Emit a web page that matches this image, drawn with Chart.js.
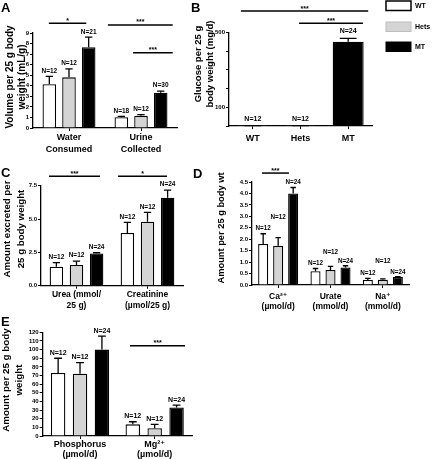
<!DOCTYPE html>
<html>
<head>
<meta charset="utf-8">
<script src="https://cdn.jsdelivr.net/npm/chart.js@4.4.1/dist/chart.umd.min.js"></script>
<style>
  html, body { margin: 0; padding: 0; background: #fff; }
  #fig { position: relative; width: 432px; height: 459px; overflow: hidden; background: #fff; }
  #fig canvas { position: absolute; left: 0; top: 0; }
</style>
</head>
<body>
<div id="fig">
  <canvas id="chartA" width="432" height="459"></canvas>
  <canvas id="chartB" width="432" height="459"></canvas>
  <canvas id="chartC" width="432" height="459"></canvas>
  <canvas id="chartD" width="432" height="459"></canvas>
  <canvas id="chartE" width="432" height="459"></canvas>
</div>
<script>
const FONT = "'Liberation Sans', Arial, Helvetica, 'DejaVu Sans', sans-serif";
const W = 432, H = 459;

// genotype groups
const groups = ['WT', 'Hets', 'MT'];
const groupFill = ['#ffffff', '#d4d4d4', '#000000'];

// A - volume per 25 g body weight
const volumeCats = [['Water', 'Consumed'], ['Urine', 'Collected']];
const volumeWT = [4.15, 1.03], volumeWTErr = [0.75, 0.08], volumeWTN = [12, 18];
const volumeHets = [4.8, 1.15], volumeHetsErr = [0.8, 0.12], volumeHetsN = [12, 12];
const volumeMT = [7.65, 3.35], volumeMTErr = [0.95, 0.15], volumeMTN = [21, 30];

// B - glucose
const glucoseCats = ['WT', 'Hets', 'MT'];
const glucose = [1.5, 1.5, 450];
const glucoseErr = [0.5, 0.5, 18];
const glucoseN = [12, 12, 24];
const glucoseTickLabels = [100, 500];

// C - urea / creatinine
const excretedCats = [['Urea (mmol/', '25 g)'], ['Creatinine', '(\u00b5mol/25 g)']];
const excretedWT = [1.43, 3.95], excretedWTErr = [0.3, 0.8], excretedWTN = [12, 12];
const excretedHets = [1.55, 4.8], excretedHetsErr = [0.3, 0.7], excretedHetsN = [12, 12];
const excretedMT = [2.42, 6.6], excretedMTErr = [0.05, 0.57], excretedMTN = [24, 24];

// D - Ca, urate, Na
const ionCats = [['Ca\u00b2\u207a', '(\u00b5mol/d)'], ['Urate', '(mmol/d)'], ['Na\u207a', '(mmol/d)']];
const ionWT = [1.79, 0.6, 0.22], ionWTErr = [0.45, 0.12, 0.07], ionWTN = [12, 12, 12];
const ionHets = [1.71, 0.66, 0.23], ionHetsErr = [0.36, 0.15, 0.04], ionHetsN = [12, 12, 12];
const ionMT = [4.0, 0.77, 0.35], ionMTErr = [0.26, 0.07, 0.01], ionMTN = [24, 24, 24];

// E - phosphorus, Mg
const mineralCats = [['Phosphorus', '(\u00b5mol/d)'], ['Mg\u00b2\u207a', '(\u00b5mol/d)']];
const mineralWT = [73, 13.5], mineralWTErr = [17, 3], mineralWTN = [12, 12];
const mineralHets = [72, 9], mineralHetsErr = [13, 4.5], mineralHetsN = [12, 12];
const mineralMT = [100, 33], mineralMTErr = [15.5, 2.8], mineralMTN = [24, 24];

Chart.defaults.font.family = FONT;
Chart.defaults.font.weight = 'bold';
Chart.defaults.color = '#000';

// error bars, N labels, significance lines, titles, legend
const panelPlugin = {
  id: 'panel',
  afterDatasetsDraw(chart, args, o) {
    const ctx = chart.ctx, xs = chart.scales.x, ys = chart.scales.y;
    ctx.save();
    ctx.strokeStyle = '#000';
    ctx.fillStyle = '#000';
    chart.data.datasets.forEach((ds, i) => {
      chart.getDatasetMeta(i).data.forEach((bar, j) => {
        const top = ys.getPixelForValue(ds.data[j] + ds.err[j]);
        const cap = bar.width * 0.27;
        ctx.lineWidth = 1.3;
        ctx.beginPath();
        ctx.moveTo(bar.x, bar.y);
        ctx.lineTo(bar.x, top);
        ctx.moveTo(bar.x - cap, top);
        ctx.lineTo(bar.x + cap, top);
        ctx.stroke();
        const lift = o.lift ? o.lift[i][j] : 0;
        ctx.font = `bold ${o.nSize}px ${FONT}`;
        ctx.textAlign = 'center';
        ctx.textBaseline = 'middle';
        ctx.fillText('N=' + ds.n[j], bar.x, top - o.nGap - lift);
      });
    });

    (o.sig || []).forEach(s => {
      const x0 = xs.getPixelForValue(s.x0), x1 = xs.getPixelForValue(s.x1);
      const y = ys.getPixelForValue(s.y);
      ctx.lineWidth = 1.5;
      ctx.beginPath();
      ctx.moveTo(x0, y);
      ctx.lineTo(x1, y);
      ctx.stroke();
      ctx.font = `bold 7px ${FONT}`;
      ctx.textAlign = 'center';
      ctx.textBaseline = 'alphabetic';
      ctx.fillText(s.text, (x0 + x1) / 2, y - 0.5);
    });

    const t = o.title;
    ctx.font = `bold ${t.size}px ${FONT}`;
    ctx.textAlign = 'center';
    ctx.textBaseline = 'middle';
    t.lines.forEach((line, k) => {
      ctx.save();
      ctx.translate(t.xs[k], t.cy);
      ctx.rotate(-Math.PI / 2);
      ctx.fillText(line, 0, 0);
      ctx.restore();
    });

    ctx.font = `bold 13px ${FONT}`;
    ctx.textAlign = 'left';
    ctx.textBaseline = 'alphabetic';
    ctx.fillText(o.letter.text, o.letter.x, o.letter.y);

    if (o.legend) {
      const L = o.legend;
      groups.forEach((g, k) => {
        const y = L.ys[k];
        ctx.fillStyle = groupFill[k];
        ctx.fillRect(L.x, y, L.w, L.h);
        ctx.lineWidth = k === 0 ? 1.5 : 1;
        ctx.strokeStyle = k === 1 ? '#bdbdbd' : '#000';
        ctx.strokeRect(L.x, y, L.w, L.h);
        ctx.fillStyle = '#000';
        ctx.font = `bold 7px ${FONT}`;
        ctx.textAlign = 'left';
        ctx.textBaseline = 'middle';
        ctx.fillText(g, L.tx, y + L.h / 2);
      });
    }
    ctx.restore();
  }
};

function groupSets(values, errs, ns) {
  return groups.map((g, k) => ({
    label: g,
    data: values[k],
    err: errs[k],
    n: ns[k],
    backgroundColor: groupFill[k],
    borderColor: '#000',
    borderWidth: 1.3
  }));
}

function barPanel(id, p) {
  return new Chart(document.getElementById(id), {
    type: 'bar',
    data: { labels: p.labels, datasets: p.datasets },
    options: {
      responsive: false,
      animation: false,
      events: [],
      layout: {
        padding: {
          left: p.area.l - p.yw,
          top: p.area.t,
          right: W - p.area.r,
          bottom: H - p.area.b - p.xh
        }
      },
      datasets: { bar: { categoryPercentage: p.cat, barPercentage: p.bar } },
      plugins: {
        legend: { display: false },
        tooltip: { enabled: false },
        panel: p.panel
      },
      scales: {
        x: {
          offset: true,
          grid: { offset: false, drawOnChartArea: false, tickLength: 3, color: '#000', lineWidth: 1 },
          border: { color: '#000', width: 1.3 },
          ticks: {
            color: '#000', autoSkip: false, maxRotation: 0, padding: p.xPad,
            font: { size: p.xFont, weight: 'bold', lineHeight: p.xLine }
          },
          afterFit: s => { s.height = p.xh; }
        },
        y: {
          min: 0, max: p.yMax,
          grid: { drawOnChartArea: false, tickLength: 3, color: '#000', lineWidth: 1 },
          border: { color: '#000', width: 1.3 },
          ticks: {
            color: '#000', autoSkip: false, stepSize: p.yStep, padding: 1,
            font: { size: 6, weight: 'bold' },
            callback: p.yFmt
          },
          afterFit: s => { s.width = p.yw; }
        }
      }
    },
    plugins: [panelPlugin]
  });
}

// A
barPanel('chartA', {
  area: { l: 33, t: 33, r: 177, b: 128 }, yw: 25, xh: 30,
  labels: volumeCats,
  datasets: groupSets([volumeWT, volumeHets, volumeMT], [volumeWTErr, volumeHetsErr, volumeMTErr], [volumeWTN, volumeHetsN, volumeMTN]),
  cat: 0.82, bar: 0.69, yMax: 9, yStep: 1, yFmt: v => v,
  xFont: 9, xLine: 1.33, xPad: 1,
  panel: {
    nSize: 6.5, nGap: 5.5,
    sig: [
      { x0: -0.28, x1: 0.24, y: 9.92, text: '*' },
      { x0: 0.54, x1: 1.44, y: 9.76, text: '***' },
      { x0: 0.89, x1: 1.44, y: 7.13, text: '***' }
    ],
    title: { lines: ['Volume per 25 g body', 'weight (mL/g)'], xs: [10, 22], cy: 77, size: 10 },
    letter: { text: 'A', x: 1, y: 12 }
  }
});

// B
barPanel('chartB', {
  area: { l: 229, t: 32.3, r: 372, b: 126.1 }, yw: 20, xh: 30,
  labels: glucoseCats,
  datasets: [{
    label: 'Glucose', data: glucose, err: glucoseErr, n: glucoseN,
    backgroundColor: groupFill, borderColor: '#000', borderWidth: 1.3
  }],
  cat: 1, bar: 0.65, yMax: 500, yStep: 100,
  yFmt: v => glucoseTickLabels.includes(v) ? v : '',
  xFont: 9, xLine: 1.3, xPad: 3.5,
  panel: {
    nSize: 7, nGap: 7,
    sig: [
      { x0: -0.25, x1: 2.42, y: 613, text: '***' },
      { x0: 0.97, x1: 2.31, y: 548, text: '***' }
    ],
    title: { lines: ['Glucose per 25 g', 'body weight (mg/d)'], xs: [198, 210], cy: 64, size: 9.5 },
    letter: { text: 'B', x: 191, y: 12 },
    legend: { x: 386, w: 25, h: 9.5, ys: [1, 22, 42], tx: 415 }
  }
});

// C
barPanel('chartC', {
  area: { l: 41, t: 185.7, r: 183, b: 285.7 }, yw: 25, xh: 30,
  labels: excretedCats,
  datasets: groupSets([excretedWT, excretedHets, excretedMT], [excretedWTErr, excretedHetsErr, excretedMTErr], [excretedWTN, excretedHetsN, excretedMTN]),
  cat: 0.85, bar: 0.67, yMax: 7.5, yStep: 2.5, yFmt: v => v.toFixed(1),
  xFont: 8.5, xLine: 1.3, xPad: 0,
  panel: {
    nSize: 6.5, nGap: 5.5,
    sig: [
      { x0: -0.387, x1: 0.331, y: 8.2, text: '***' },
      { x0: 0.585, x1: 1.275, y: 8.2, text: '*' }
    ],
    title: { lines: ['Amount excreted per', '25 g body weight'], xs: [7, 21], cy: 229, size: 9.7 },
    letter: { text: 'C', x: 1, y: 177 }
  }
});

// D
barPanel('chartD', {
  area: { l: 252, t: 182, r: 409, b: 285 }, yw: 20, xh: 30,
  labels: ionCats,
  datasets: groupSets([ionWT, ionHets, ionMT], [ionWTErr, ionHetsErr, ionMTErr], [ionWTN, ionHetsN, ionMTN]),
  cat: 0.86, bar: 0.67, yMax: 4.5, yStep: 0.5, yFmt: v => v.toFixed(1),
  xFont: 8.5, xLine: 1.25, xPad: 3,
  panel: {
    nSize: 6.3, nGap: 5,
    lift: [[0, 0, 0], [15, 9, 13], [0, 0, 0]],
    sig: [
      { x0: -0.31, x1: 0.206, y: 4.89, text: '***' }
    ],
    title: { lines: ['Amount per 25 g body wt'], xs: [221], cy: 228, size: 9.3 },
    letter: { text: 'D', x: 193, y: 178 }
  }
});

// E
barPanel('chartE', {
  area: { l: 42.7, t: 332.3, r: 192, b: 436 }, yw: 25, xh: 23,
  labels: mineralCats,
  datasets: groupSets([mineralWT, mineralHets, mineralMT], [mineralWTErr, mineralHetsErr, mineralMTErr], [mineralWTN, mineralHetsN, mineralMTN]),
  cat: 0.88, bar: 0.66, yMax: 120, yStep: 10, yFmt: v => v,
  xFont: 9, xLine: 1.15, xPad: 0,
  panel: {
    nSize: 7, nGap: 5.5,
    sig: [
      { x0: 0.67, x1: 1.407, y: 104.5, text: '***' }
    ],
    title: { lines: ['Amount per 25 g body', 'weight'], xs: [6, 19], cy: 380, size: 9.8 },
    letter: { text: 'E', x: 1, y: 326 }
  }
});
</script>
</body>
</html>
